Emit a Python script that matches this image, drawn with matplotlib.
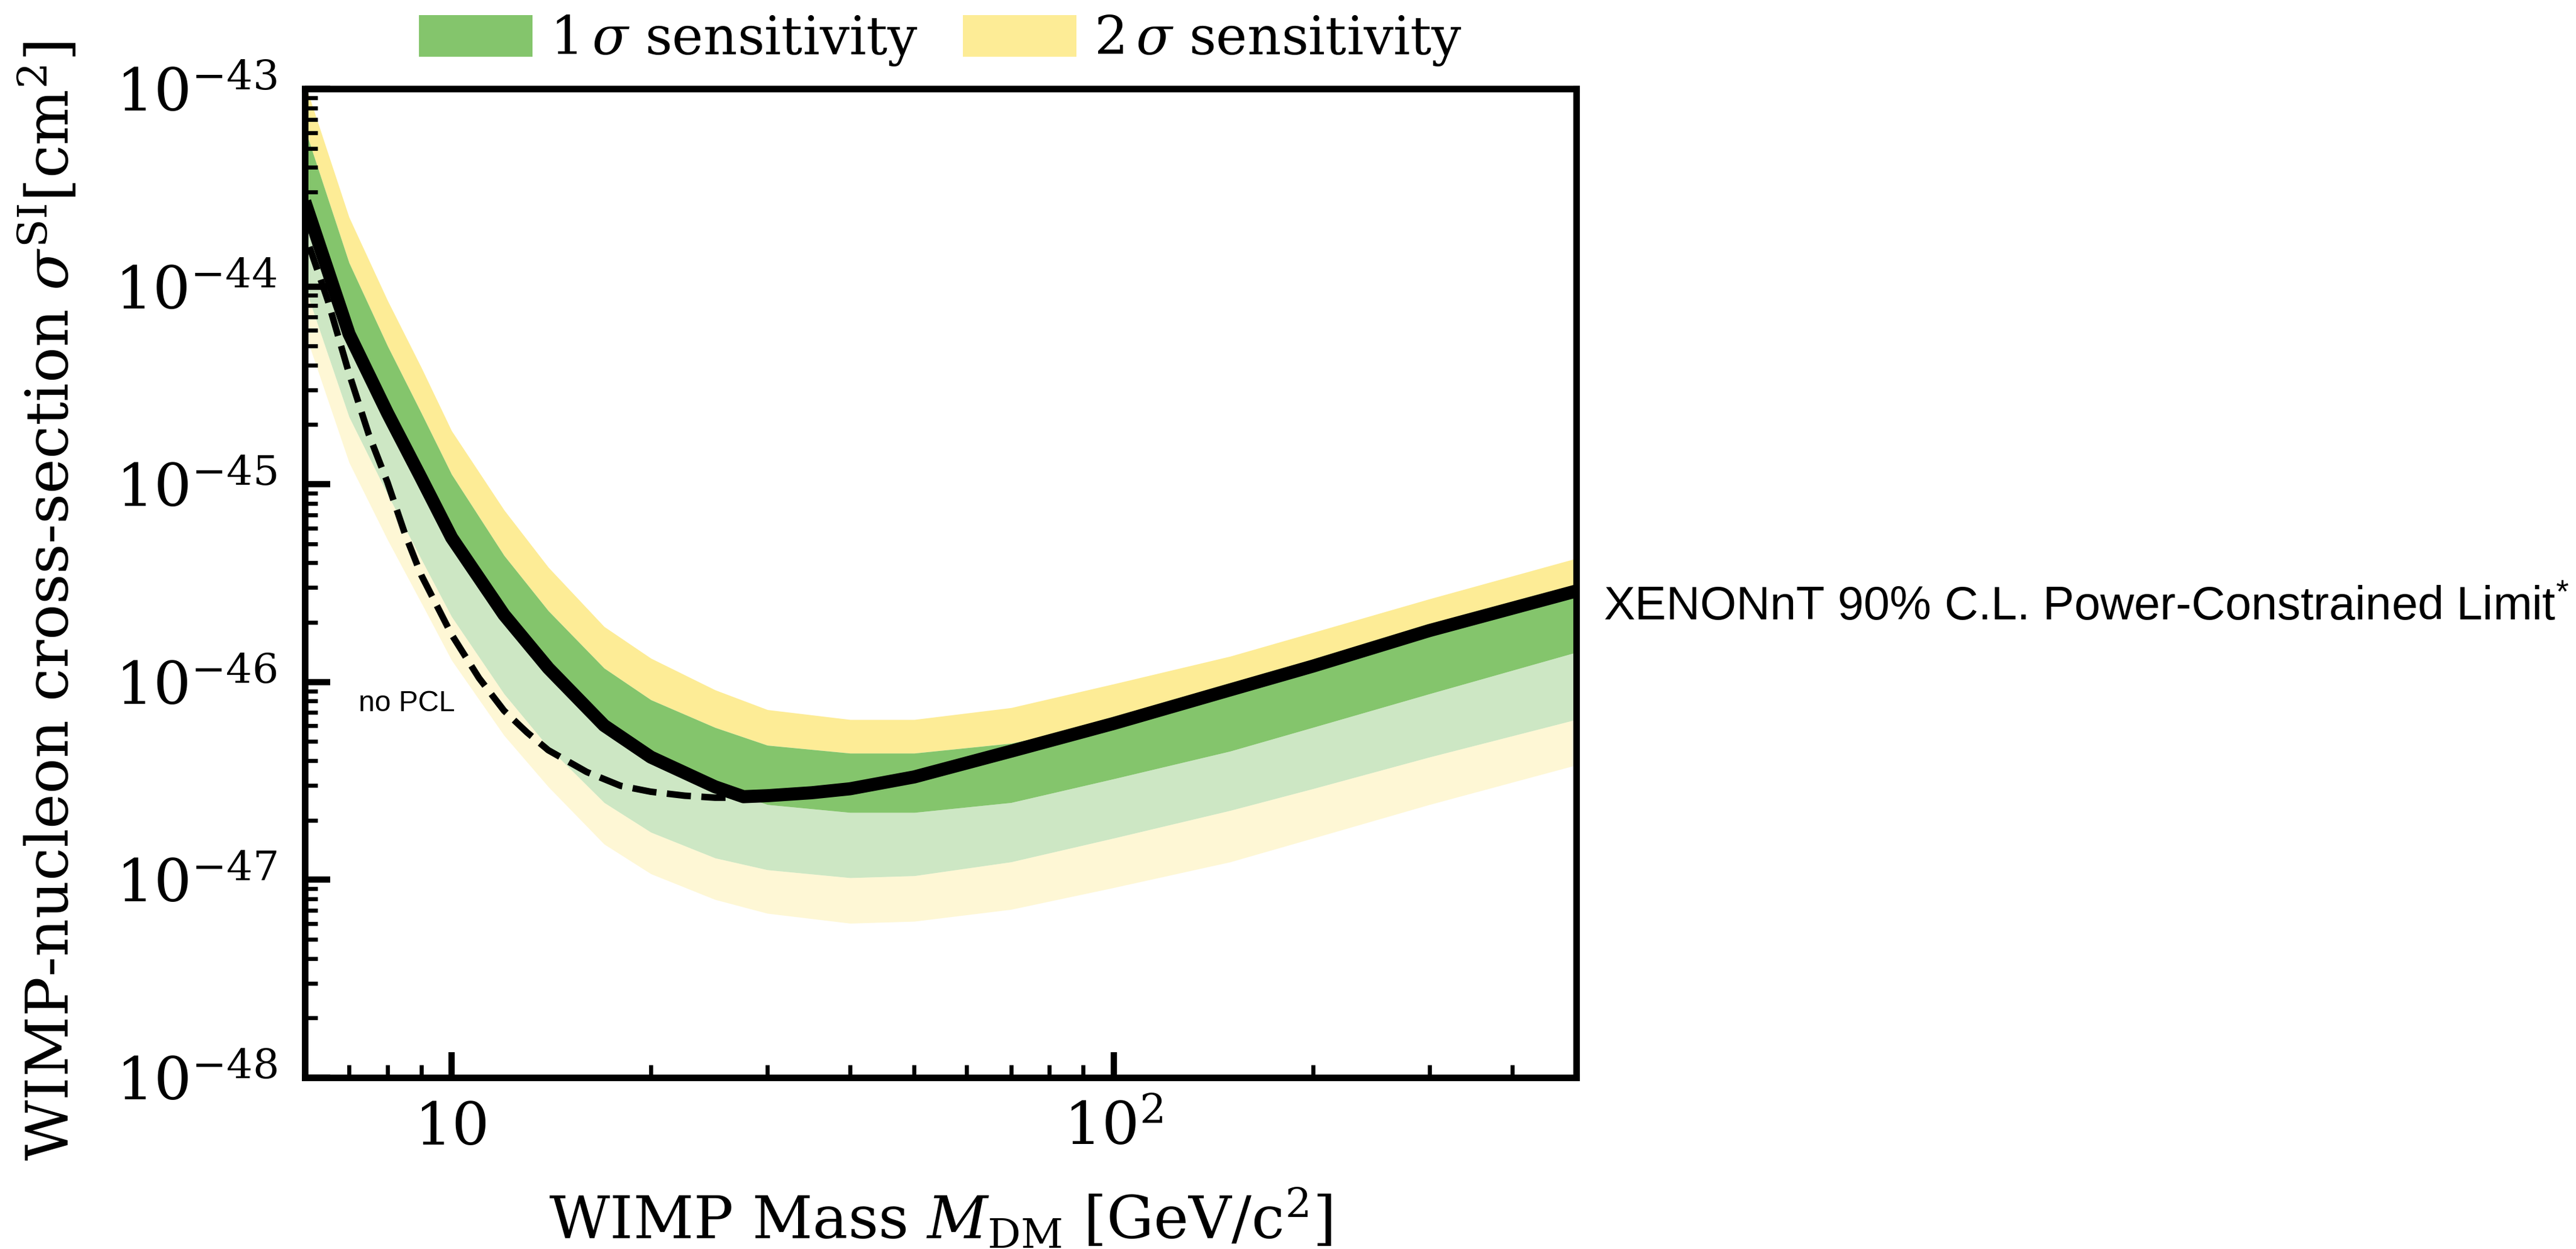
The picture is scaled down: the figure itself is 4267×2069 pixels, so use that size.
import numpy as np
import matplotlib
matplotlib.use("Agg")
import matplotlib.pyplot as plt
from matplotlib.patches import Patch
from matplotlib.ticker import FixedLocator, FixedFormatter, LogLocator, NullFormatter

# WIMP masses [GeV/c^2] at which the sensitivity bands are tabulated
mass = [6, 7, 8, 9, 10, 12, 14, 17, 20, 25, 30, 40, 50, 70, 100, 150, 200, 300, 500]

# log10 of the SI cross-section [cm^2] for the sensitivity band edges
median_log10 = [-43.57, -44.24, -44.64, -44.97, -45.27, -45.66, -45.93, -46.22, -46.38, -46.53,
                -46.62, -46.66, -46.66, -46.61, -46.49, -46.35, -46.23, -46.06, -45.85]
plus1_log10 = [-43.20, -43.88, -44.30, -44.64, -44.95, -45.36, -45.64, -45.93, -46.09, -46.23,
               -46.32, -46.36, -46.36, -46.31, -46.20, -46.06, -45.94, -45.76, -45.55]
plus2_log10 = [-42.97, -43.65, -44.07, -44.41, -44.73, -45.13, -45.42, -45.72, -45.88, -46.04,
               -46.14, -46.19, -46.19, -46.13, -46.01, -45.87, -45.75, -45.58, -45.375]
minus1_log10 = [-44.00, -44.66, -45.05, -45.38, -45.67, -46.06, -46.33, -46.61, -46.76, -46.89,
                -46.95, -46.99, -46.98, -46.91, -46.79, -46.65, -46.54, -46.38, -46.19]
minus2_log10 = [-44.23, -44.89, -45.28, -45.60, -45.89, -46.27, -46.53, -46.82, -46.97, -47.10,
                -47.17, -47.22, -47.21, -47.15, -47.04, -46.91, -46.79, -46.62, -46.42]

# Power-constrained limit (solid line)
pcl_mass = [6, 7, 8, 9, 10, 12, 14, 17, 20, 25, 27.6, 30, 35, 40, 50, 70, 100, 150, 200, 300, 500]
pcl_log10 = [-43.57, -44.24, -44.64, -44.97, -45.27, -45.66, -45.93, -46.22, -46.38, -46.53,
             -46.58, -46.575, -46.56, -46.54, -46.48, -46.35, -46.21, -46.04, -45.92, -45.74,
             -45.54]

# Limit without power constraint (dashed line)
nopcl_mass = [6.1, 6.5, 7.0, 7.5, 8.0, 8.5, 9.0, 10.0, 11.0, 12.0, 13.0, 14.0, 16.0, 18.0,
              20.0, 22.5, 25.0, 27.6]
nopcl_log10 = [-43.80, -44.07, -44.44, -44.75, -44.99, -45.25, -45.46, -45.76, -45.98, -46.145,
               -46.255, -46.345, -46.455, -46.525, -46.555, -46.575, -46.585, -46.585]

xtick_values = [10, 100]
xtick_labels = ["10", r"$10^2$"]
ytick_values = [1e-48, 1e-47, 1e-46, 1e-45, 1e-44, 1e-43]

GREEN = "#84c56c"
YELLOW = "#fdec96"

plt.rcParams["font.family"] = ["DejaVu Serif"]
plt.rcParams["mathtext.fontset"] = "dejavuserif"

fig = plt.figure(figsize=(4267 / 300, 2069 / 300), dpi=300)
ax = fig.add_axes([0.1183, 0.1373, 0.4936, 0.7917])
ax.set_xscale("log")
ax.set_yscale("log")

m = np.array(mass)
med = 10.0 ** np.array(median_log10)
p1 = 10.0 ** np.array(plus1_log10)
p2 = 10.0 ** np.array(plus2_log10)
m1 = 10.0 ** np.array(minus1_log10)
m2 = 10.0 ** np.array(minus2_log10)

# upper halves of the bands at full strength, lower halves faded
ax.fill_between(m, p1, p2, color=YELLOW, lw=0)
ax.fill_between(m, med, p1, color=GREEN, lw=0)
ax.fill_between(m, m1, med, color=GREEN, alpha=0.4, lw=0)
ax.fill_between(m, m2, m1, color=YELLOW, alpha=0.4, lw=0)

ax.plot(nopcl_mass, 10.0 ** np.array(nopcl_log10), color="black", lw=2.6, ls="--")
ax.plot(pcl_mass, 10.0 ** np.array(pcl_log10), color="black", lw=5.2, solid_capstyle="butt")

ax.set_xlim(6, 500)
ax.set_ylim(1e-48, 1e-43)

ax.xaxis.set_major_locator(FixedLocator(xtick_values))
ax.xaxis.set_major_formatter(FixedFormatter(xtick_labels))
ax.xaxis.set_minor_locator(LogLocator(base=10, subs=np.arange(2, 10)))
ax.xaxis.set_minor_formatter(NullFormatter())
ax.yaxis.set_major_locator(FixedLocator(ytick_values))
ax.yaxis.set_minor_locator(LogLocator(base=10, subs=np.arange(2, 10), numticks=20))
ax.yaxis.set_minor_formatter(NullFormatter())

ax.tick_params(which="both", direction="in", top=False, right=False, labelsize=23.5)
ax.tick_params(which="major", length=10, width=2.5)
ax.tick_params(which="minor", length=5, width=1.6)
ax.tick_params(axis="x", which="major", pad=9)
ax.tick_params(axis="y", which="major", pad=11)
for sp in ax.spines.values():
    sp.set_linewidth(2.6)

ax.set_xlabel(r"WIMP Mass $M_{\mathrm{DM}}$ [GeV/c$^2$]", fontsize=23.5, labelpad=12)
ax.set_ylabel(r"WIMP-nucleon cross-section $\sigma^{\mathrm{SI}}[\mathrm{cm}^2]$", fontsize=23.5)
ax.yaxis.set_label_coords(-0.176, 0.482)

ax.text(7.24, 10 ** -46.147, "no PCL", family="Liberation Sans", fontsize=11.5,
        ha="left", va="baseline")
ax.text(550, 10 ** -45.686, r"XENONnT 90% C.L. Power-Constrained Limit$^{\mathregular{*}}$",
        family="Liberation Sans", fontsize=18.6, ha="left", va="baseline", clip_on=False)

handles = [Patch(facecolor=GREEN, label=r"$1\,\sigma$ sensitivity"),
           Patch(facecolor=YELLOW, label=r"$2\,\sigma$ sensitivity")]
ax.legend(handles=handles, loc="lower center", bbox_to_anchor=(0.5, 1.0), ncol=2,
          frameon=False, fontsize=21, handlelength=2.15, handleheight=0.85,
          handletextpad=0.33, columnspacing=0.85, borderaxespad=0.0)

fig.savefig("out.png", dpi=300)
